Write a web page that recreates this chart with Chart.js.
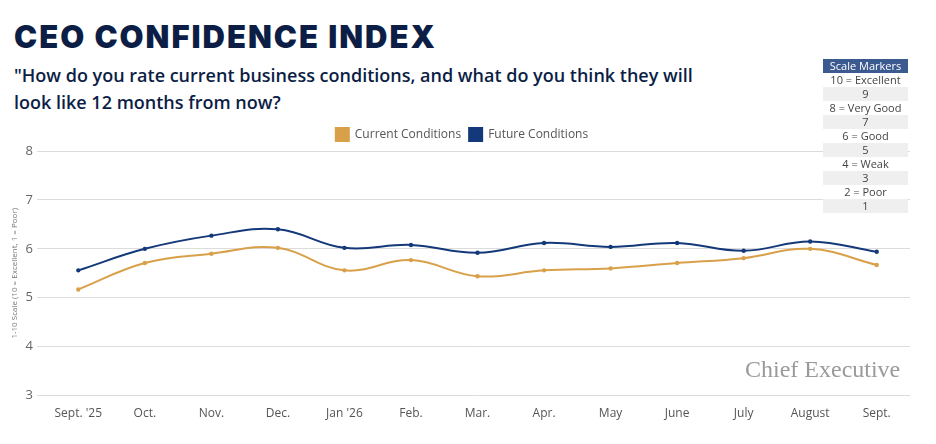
<!DOCTYPE html>
<html>
<head>
<meta charset="utf-8">
<script src="https://cdn.jsdelivr.net/npm/chart.js@4"></script>
<style>
body { margin:0; width:936px; height:444px; background:#fff; font-family:'Open Sans', sans-serif; position:relative; overflow:hidden; }
#title { position:absolute; left:14px; top:18px; font:900 31px 'Inter', sans-serif; color:#0c1e45; letter-spacing:2px; }
#sub { position:absolute; left:14px; top:62px; font:600 18px 'Open Sans', sans-serif; color:#0c1e45; line-height:27px; width:705px; }
#wrap { position:absolute; left:0; top:120px; width:916px; height:304px; }
#scale { position:absolute; left:823px; top:59px; width:85px; font:11px 'Open Sans', sans-serif; color:#444; text-align:center; }
#scale div { height:14px; line-height:14px; }
#scale .h { background:#3b5a8f; color:#fff; }
#scale .g { background:#efefef; }
#logo { position:absolute; left:745px; top:356px; font:24px 'Liberation Serif', serif; color:#9a9a9a; }
</style>
</head>
<body>
<div id="title">CEO CONFIDENCE INDEX</div>
<div id="sub">"How do you rate current business conditions, and what do you think they will look like 12 months from now?</div>
<div id="wrap"><canvas id="c"></canvas></div>
<div id="scale">
<div class="h">Scale Markers</div>
<div>10 = Excellent</div><div class="g">9</div><div>8 = Very Good</div><div class="g">7</div>
<div>6 = Good</div><div class="g">5</div><div>4 = Weak</div><div class="g">3</div><div>2 = Poor</div><div class="g">1</div>
</div>
<div id="logo">Chief Executive</div>
<script>
const months = ["Sept. '25", 'Oct.', 'Nov.', 'Dec.', "Jan '26", 'Feb.', 'Mar.', 'Apr.', 'May', 'June', 'July', 'August', 'Sept.'];
const currentConditions = [5.17, 5.71, 5.9, 6.02, 5.56, 5.77, 5.44, 5.56, 5.6, 5.71, 5.81, 6.0, 5.67];
const futureConditions = [5.56, 6.0, 6.27, 6.4, 6.02, 6.08, 5.92, 6.12, 6.04, 6.12, 5.96, 6.15, 5.94];

new Chart(document.getElementById('c'), {
    type: 'line',
    data: {
        labels: months,
        datasets: [{
            label: 'Current Conditions',
            data: currentConditions,
            borderColor: '#d9a04a',
            backgroundColor: '#d9a04a',
            borderWidth: 2,
            pointRadius: 1.2,
            tension: 0.4
        }, {
            label: 'Future Conditions',
            data: futureConditions,
            borderColor: '#14397a',
            backgroundColor: '#14397a',
            borderWidth: 2,
            pointRadius: 1.2,
            tension: 0.4
        }]
    },
    options: {
        responsive: true,
        maintainAspectRatio: false,
        animation: false,
        layout: { padding: { left: 8, right: 0, top: 0, bottom: 0 } },
        plugins: {
            legend: {
                position: 'top',
                labels: { boxWidth: 13, boxHeight: 13, color: '#555', font: { family: 'Open Sans', size: 12 }, padding: 8 }
            },
            tooltip: { enabled: false }
        },
        scales: {
            x: {
                offset: true,
                grid: { display: false },
                border: { display: false },
                ticks: { color: '#555', font: { family: 'Open Sans', size: 12 }, maxRotation: 0 }
            },
            y: {
                min: 3, max: 8,
                grid: { color: '#dcdcdc' },
                border: { display: false },
                ticks: { stepSize: 1, color: '#666', font: { family: 'Open Sans', size: 13 }, padding: 4 },
                title: { display: true, text: '1-10 Scale (10 = Excellent, 1 = Poor)', color: '#777', font: { family: 'Open Sans', size: 8 }, padding: 2 }
            }
        }
    }
});
</script>
</body>
</html>
